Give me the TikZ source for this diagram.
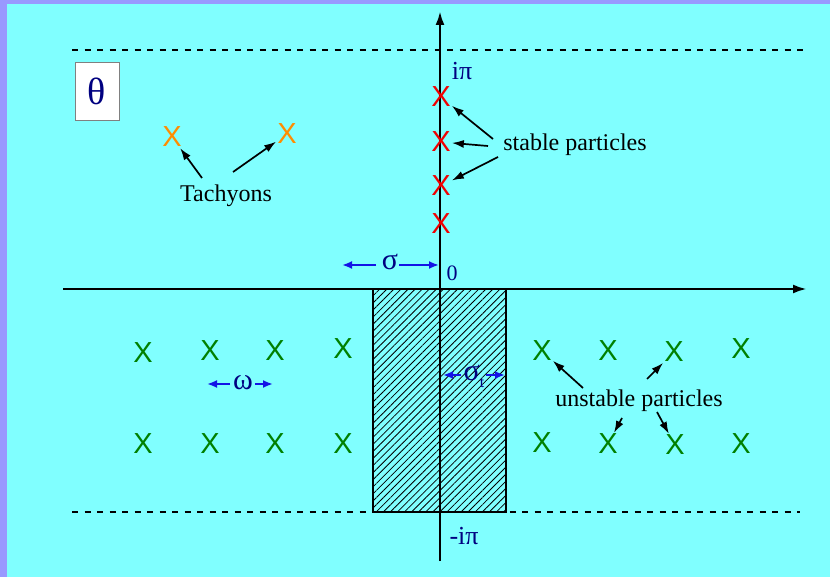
\documentclass[tikz,border=0pt]{standalone}
\usepackage{fontspec}
\setmainfont{Liberation Serif}
\newfontfamily\xfont{Liberation Sans}
\usetikzlibrary{arrows.meta,patterns.meta}
\definecolor{bgc}{RGB}{128,255,255}
\definecolor{framec}{RGB}{153,153,255}
\definecolor{navyc}{RGB}{0,0,128}
\definecolor{arrblue}{RGB}{20,20,230}
\definecolor{xred}{RGB}{240,0,0}
\definecolor{xorange}{RGB}{255,140,0}
\definecolor{xgreen}{RGB}{0,128,0}
\begin{document}
\begin{tikzpicture}[x=1pt,y=-1pt,
  mk/.style={font=\xfont\fontsize{29}{29}\selectfont, inner sep=1pt},
  redx/.style={mk,text=xred},
  orx/.style={mk,text=xorange},
  grx/.style={mk,text=xgreen},
  lbl/.style={font=\fontsize{24}{24}\selectfont, inner sep=0pt, anchor=base},
  glbl/.style={font=\fontsize{22}{22}\selectfont, text=navyc, inner sep=0pt},
  gbig/.style={font=\fontsize{30}{30}\selectfont, text=navyc, inner sep=0pt},
  axis/.style={line width=2.6pt, -{Latex[length=14pt,width=9pt]}},
  dashln/.style={line width=1.5pt, dash pattern=on 6pt off 6.5pt},
  ann/.style={line width=1.7pt, -{Latex[length=12pt,width=8pt]}},
  bann/.style={line width=1.9pt, draw=arrblue, -{Latex[length=10pt,width=8pt]}}
]
\useasboundingbox (0,0) rectangle (830,577);
\fill[framec] (0,0) rectangle (830,577);
\fill[bgc] (7,4) rectangle (830,577);

% dashed lines
\coordinate (dt1) at (72,50); \coordinate (dt2) at (803,50);
\coordinate (db1) at (72,512); \coordinate (db2) at (800,512);
\draw[dashln] (dt1) -- (dt2);
\draw[dashln] (db1) -- (db2);

% hatched strip
\draw[line width=1.4pt, pattern={Lines[angle=45,distance=5pt,line width=0.8pt]}] (373,289) rectangle (506,512);

% axes
\coordinate (xa1) at (63,289); \coordinate (xa2) at (807,289);
\coordinate (ya1) at (440,561); \coordinate (ya2) at (440,11);
\draw[axis] (xa1) -- (xa2);
\draw[axis] (ya1) -- (ya2);

% theta box
\node[draw=gray, fill=white, line width=0.8pt, minimum width=44pt, minimum height=58pt, inner sep=0pt,
      text=navyc, font=\fontsize{38}{38}\selectfont] (theta) at (97,91) {θ};

% axis labels
\node[glbl, anchor=base, font=\fontsize{26}{26}\selectfont] (ipi) at (462,80) {iπ};
\node[glbl, anchor=base] (zero) at (452,281) {0};
\node[glbl, anchor=base, font=\fontsize{26}{26}\selectfont] (mipi) at (464,544) {-iπ};

% stable particles
\node[redx] (r1) at (441,97) {X};
\node[redx] (r2) at (441,142) {X};
\node[redx] (r3) at (441,186) {X};
\node[redx] (r4) at (441,224) {X};
\node[lbl] (stab) at (575,151) {stable particles};
\coordinate (s1) at (493,139);
\coordinate (s2) at (488,146);
\coordinate (s3) at (498,157);
\draw[ann] (s1) -- (r1);
\draw[ann] (s2) -- (r2);
\draw[ann] (s3) -- (r3);

% tachyons
\node[orx] (t1) at (172,137) {X};
\node[orx] (t2) at (287,134) {X};
\node[lbl] (tach) at (226,202) {Tachyons};
\coordinate (ta1) at (202,178);
\coordinate (ta2) at (233,172);
\draw[ann] (ta1) -- (t1);
\draw[ann] (ta2) -- (t2);

% sigma
\node[gbig] (sig) at (390,262) {σ};
\coordinate (sgl) at (342,265); \coordinate (sgla) at (376,265);
\coordinate (sgra) at (399,265); \coordinate (sgr) at (439,265);
\draw[bann] (sgla) -- (sgl);
\draw[bann] (sgra) -- (sgr);

% sigma_t
\node[gbig] (sigt) at (474,376) {σ\raisebox{-7pt}{\fontsize{16}{16}\selectfont t}};
\coordinate (stl) at (443,375); \coordinate (stla) at (461,375);
\coordinate (stra) at (486,375); \coordinate (str) at (505,375);
\draw[bann] (stla) -- (stl);
\draw[bann] (stra) -- (str);

% omega
\node[gbig] (om) at (243,383) {ω};
\coordinate (oml) at (207,384); \coordinate (omla) at (230,384);
\coordinate (omra) at (255,384); \coordinate (omr) at (273,384);
\draw[bann] (omla) -- (oml);
\draw[bann] (omra) -- (omr);

% unstable particles, left
\node[grx] (g1) at (143,353) {X};
\node[grx] (g2) at (210,351) {X};
\node[grx] (g3) at (275,351) {X};
\node[grx] (g4) at (343,349) {X};
\node[grx] (g5) at (143,444) {X};
\node[grx] (g6) at (210,444) {X};
\node[grx] (g7) at (275,444) {X};
\node[grx] (g8) at (343,444) {X};
% right
\node[grx] (h1) at (542,351) {X};
\node[grx] (h2) at (608,351) {X};
\node[grx] (h3) at (674,352) {X};
\node[grx] (h4) at (741,349) {X};
\node[grx] (h5) at (542,443) {X};
\node[grx] (h6) at (608,444) {X};
\node[grx] (h7) at (675,445) {X};
\node[grx] (h8) at (741,444) {X};

\node[lbl] (unst) at (639,406) {unstable particles};
\coordinate (u1) at (583,388);
\coordinate (u2) at (647,379);
\coordinate (u3) at (622,418);
\coordinate (u4) at (657,412);
\draw[ann] (u1) -- (h1);
\draw[ann] (u2) -- (h3);
\draw[ann] (u3) -- (h6);
\draw[ann] (u4) -- (h7);
\end{tikzpicture}
\end{document}
